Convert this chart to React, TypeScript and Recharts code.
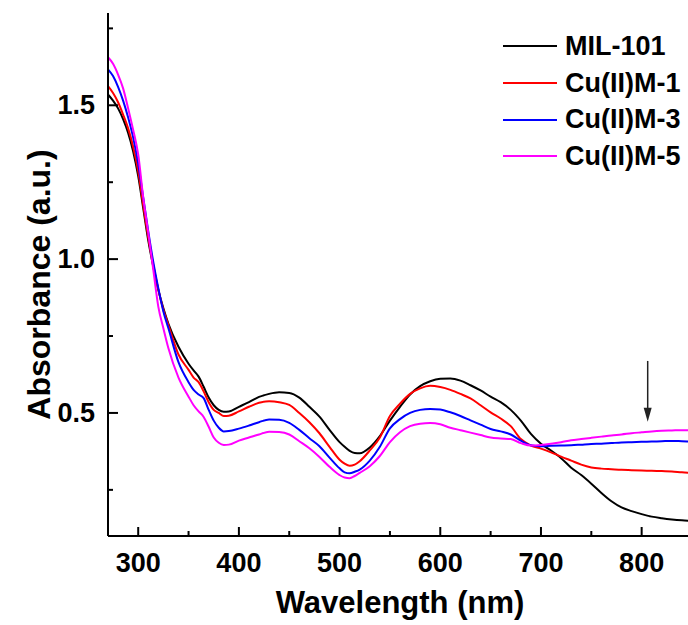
import React from "react"
import { LineChart, Line, XAxis, YAxis, Legend, ReferenceLine } from "recharts"

// wavelength grid (nm)
const wavelengths = [
  270, 275, 280, 285, 290, 295, 300, 305, 310, 315, 320, 325, 330,
  340, 350,
  355, 360, 365, 370, 375, 380, 385, 390,
  400, 410, 420, 430, 440, 450, 460, 470, 480, 490, 500,
  505, 510, 515, 520,
  530, 540, 550, 560, 570, 580, 590, 600, 610, 620, 630, 640, 650, 660, 670, 680, 690, 700,
  710, 720, 730, 740, 750, 760, 770, 780, 790, 800, 810, 820, 830, 840, 850,
]

const mil101 = [
  1.535, 1.515, 1.49, 1.455, 1.41, 1.35, 1.27, 1.165, 1.06, 0.975, 0.9, 0.84, 0.79,
  0.715, 0.66,
  0.638, 0.618, 0.585, 0.55, 0.525, 0.51, 0.504, 0.505,
  0.52, 0.535, 0.552, 0.562, 0.567, 0.565, 0.55, 0.52, 0.488, 0.445, 0.405,
  0.39, 0.377, 0.37, 0.369,
  0.388, 0.425, 0.475, 0.52, 0.56, 0.587, 0.603, 0.611, 0.612, 0.605, 0.59, 0.573, 0.553, 0.535, 0.51, 0.475, 0.432, 0.4,
  0.378, 0.353, 0.322, 0.298, 0.27, 0.24, 0.213, 0.193, 0.181, 0.171, 0.163, 0.158, 0.154, 0.151, 0.149,
]

const cuM1 = [
  1.562, 1.54, 1.51, 1.47, 1.425, 1.365, 1.285, 1.175, 1.07, 0.98, 0.9, 0.835, 0.785,
  0.69, 0.64,
  0.615, 0.6, 0.57, 0.535, 0.51, 0.5, 0.49, 0.491,
  0.505, 0.52, 0.533, 0.538, 0.535, 0.526, 0.5, 0.47, 0.434, 0.39, 0.348,
  0.335, 0.328, 0.332, 0.343,
  0.378, 0.42, 0.49, 0.53, 0.562, 0.58, 0.588, 0.584, 0.575, 0.562, 0.547, 0.525, 0.502, 0.482, 0.457, 0.415, 0.394, 0.384,
  0.372, 0.358, 0.345, 0.332, 0.323, 0.319, 0.317, 0.315, 0.314, 0.313, 0.312, 0.311, 0.31, 0.307, 0.305,
]

const cuM3 = [
  1.617, 1.595, 1.56, 1.515, 1.46, 1.395, 1.31, 1.2, 1.09, 0.99, 0.905, 0.83, 0.775,
  0.665, 0.6,
  0.575, 0.56, 0.548, 0.51, 0.475, 0.452, 0.44, 0.441,
  0.449, 0.459, 0.47, 0.479, 0.478, 0.468, 0.445, 0.418, 0.392, 0.355, 0.32,
  0.307, 0.304, 0.309, 0.316,
  0.345, 0.39, 0.45, 0.48, 0.5, 0.51, 0.513, 0.511, 0.502, 0.49, 0.476, 0.462, 0.448, 0.44, 0.43, 0.41, 0.395, 0.392,
  0.393, 0.394, 0.395, 0.397, 0.399, 0.4, 0.402, 0.404, 0.405, 0.406, 0.407, 0.408, 0.409, 0.408, 0.407,
]

const cuM5 = [
  1.656, 1.635, 1.6, 1.555, 1.49, 1.42, 1.34, 1.2, 1.085, 0.965, 0.845, 0.775, 0.71,
  0.615, 0.553,
  0.525, 0.505, 0.487, 0.455, 0.42, 0.403, 0.396, 0.397,
  0.41, 0.42, 0.43, 0.439, 0.438, 0.43, 0.408, 0.385, 0.357, 0.325, 0.298,
  0.29, 0.288, 0.295, 0.305,
  0.327, 0.36, 0.405, 0.437, 0.457, 0.465, 0.467, 0.463, 0.452, 0.444, 0.436, 0.428, 0.42, 0.417, 0.415, 0.402, 0.394, 0.396,
  0.4, 0.405, 0.411, 0.415, 0.419, 0.423, 0.427, 0.43, 0.434, 0.437, 0.44, 0.442, 0.443, 0.444, 0.444,
]

const xTicks = [300, 350, 400, 450, 500, 550, 600, 650, 700, 750, 800, 850]
const yTicks = [0.25, 0.5, 0.75, 1.0, 1.25, 1.5, 1.75]

// arrow marking the near-IR rise
const arrowX = 806
const arrowTop = 0.669
const arrowTip = 0.471

const series = [
  { key: "mil101", name: "MIL-101", color: "#000000" },
  { key: "cuM1", name: "Cu(II)M-1", color: "#ff0000" },
  { key: "cuM3", name: "Cu(II)M-3", color: "#0000ff" },
  { key: "cuM5", name: "Cu(II)M-5", color: "#ff00ff" },
]

const data = wavelengths.map((wl, i) => ({
  wl,
  mil101: mil101[i],
  cuM1: cuM1[i],
  cuM3: cuM3[i],
  cuM5: cuM5[i],
}))

const FONT = "'Liberation Sans', Arial, Helvetica, sans-serif"

const BottomTick = (props: any) => {
  const { x, y, payload } = props
  const major = payload.value % 100 === 0
  return (
    <g>
      <line x1={x} y1={y} x2={x} y2={y - (major ? 9 : 5)} stroke="#000" strokeWidth={2} />
      {major && (
        <text x={x} y={y + 36} textAnchor="middle" fontFamily={FONT} fontWeight="bold" fontSize={27} fill="#000">
          {payload.value}
        </text>
      )}
    </g>
  )
}

const TopTick = (props: any) => {
  const { x, y } = props
  return <line x1={x} y1={y} x2={x} y2={y + 3} stroke="#000" strokeWidth={1.5} />
}

const LeftTick = (props: any) => {
  const { x, y, payload } = props
  const major = Math.abs((payload.value * 2) % 1) < 1e-6
  return (
    <g>
      <line x1={x} y1={y} x2={x + (major ? 10 : 5)} y2={y} stroke="#000" strokeWidth={2} />
      {major && (
        <text x={x - 13} y={y + 9} textAnchor="end" fontFamily={FONT} fontWeight="bold" fontSize={27} fill="#000">
          {payload.value.toFixed(1)}
        </text>
      )}
    </g>
  )
}

const ArrowShape = (props: any) => {
  const { x1, y1, x2, y2 } = props
  return (
    <g>
      <line x1={x1} y1={y1} x2={x2} y2={y2 - 12} stroke="#222" strokeWidth={1.5} />
      <polygon points={`${x2 - 4},${y2 - 14} ${x2 + 4},${y2 - 14} ${x2},${y2}`} fill="#222" />
    </g>
  )
}

// legend drawn in series order (recharts sorts its payload by name)
const LegendBox = () => (
  <div style={{ fontFamily: FONT, fontWeight: "bold", fontSize: 27, color: "#000" }}>
    {series.map((s) => (
      <div key={s.key} style={{ display: "flex", alignItems: "center", height: 36.7 }}>
        <span style={{ display: "inline-block", width: 54, height: 2, background: s.color, marginRight: 8 }} />
        <span style={{ lineHeight: 1 }}>{s.name}</span>
      </div>
    ))}
  </div>
)

export default function App() {
  return (
    <div style={{ position: "fixed", left: 8, top: 8, width: 680, height: 617, overflow: "hidden", background: "#fff" }}>
      <LineChart width={700} height={617} data={data} margin={{ top: 5, right: 16, bottom: 0, left: 0 }}>
        <XAxis
          dataKey="wl"
          type="number"
          domain={[270, 850]}
          ticks={xTicks}
          interval={0}
          height={89}
          tickSize={0}
          tickMargin={0}
          tick={<BottomTick />}
          axisLine={{ stroke: "#000", strokeWidth: 2 }}
          label={{
            content: (p: any) => (
              <text
                x={p.viewBox.x + p.viewBox.width / 2}
                y={p.viewBox.y + 77}
                textAnchor="middle"
                fontFamily={FONT}
                fontWeight="bold"
                fontSize={31}
                fill="#000"
              >
                Wavelength (nm)
              </text>
            ),
          }}
        />
        <XAxis
          xAxisId="top"
          orientation="top"
          dataKey="wl"
          type="number"
          domain={[270, 850]}
          ticks={xTicks}
          interval={0}
          height={0}
          tickSize={0}
          tickMargin={0}
          tick={<TopTick />}
          axisLine={{ stroke: "#000", strokeWidth: 2 }}
        />
        <YAxis
          type="number"
          domain={[0.1, 1.8]}
          ticks={yTicks}
          interval={0}
          width={100}
          tickSize={0}
          tickMargin={0}
          tick={<LeftTick />}
          axisLine={{ stroke: "#000", strokeWidth: 2 }}
          allowDataOverflow
          label={{
            content: (p: any) => {
              const cx = p.viewBox.x + 42
              const cy = p.viewBox.y + p.viewBox.height / 2 + 10
              return (
                <text
                  x={cx}
                  y={cy}
                  transform={`rotate(-90, ${cx}, ${cy})`}
                  textAnchor="middle"
                  fontFamily={FONT}
                  fontWeight="bold"
                  fontSize={32}
                  fill="#000"
                >
                  Absorbance (a.u.)
                </text>
              )
            },
          }}
        />
        <Legend
          layout="vertical"
          align="center"
          verticalAlign="middle"
          wrapperStyle={{ top: 20, left: 495, width: 190 }}
          content={<LegendBox />}
        />
        {series.map((s) => (
          <Line
            key={s.key}
            type="monotone"
            dataKey={s.key}
            name={s.name}
            stroke={s.color}
            strokeWidth={2}
            dot={false}
            isAnimationActive={false}
          />
        ))}
        <ReferenceLine
          segment={[
            { x: arrowX, y: arrowTop },
            { x: arrowX, y: arrowTip },
          ]}
          shape={<ArrowShape />}
        />
      </LineChart>
    </div>
  )
}
